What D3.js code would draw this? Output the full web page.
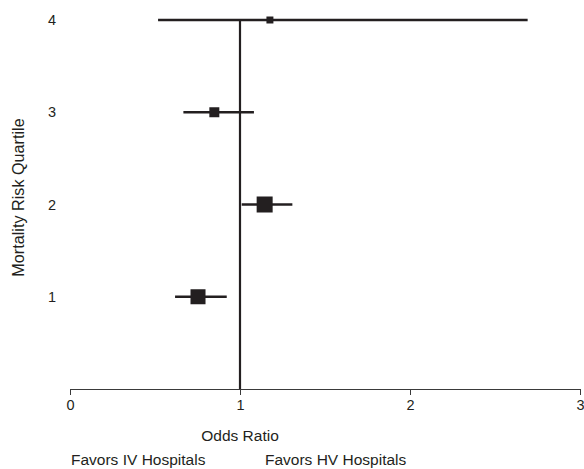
<!DOCTYPE html>
<html lang="en">
<head>
  <meta charset="utf-8">
  <title>Odds Ratio by Mortality Risk Quartile</title>
  <script src="https://d3js.org/d3.v7.min.js"></script>
  <style>
    body {
      margin: 0;
      background-color: #ffffff;
      font-family: "Liberation Sans", Arial, Helvetica, sans-serif;
    }
    .label {
      font-size: 15.5px;
      fill: #231f20;
    }
    .tick-label {
      font-size: 14.5px;
      fill: #231f20;
    }
    .axis path, .axis line {
      stroke: #3a3a3a;
    }
    .axis text {
      font-size: 14.5px;
      fill: #231f20;
      font-family: "Liberation Sans", Arial, Helvetica, sans-serif;
    }
  </style>
</head>
<body>

<script>
// data
var quartiles = [1, 2, 3, 4];
var oddsRatio = [0.753, 1.145, 0.849, 1.176];
var lowerCI = [0.618, 1.01, 0.667, 0.518];
var upperCI = [0.922, 1.308, 1.082, 2.692];
var weights = [0.88, 1.0, 0.39, 0.19];
var xTicks = [0, 1, 2, 3];

var width = 584, height = 469;
var ink = "#231f20";

var svg = d3.select("body").append("svg")
    .attr("width", width)
    .attr("height", height);

var x = d3.scaleLinear().domain([0, 3]).range([70, 580]);
var y = d3.scaleLinear().domain([0, 4]).range([389, 20]);
var side = d3.scaleSqrt().domain([0, 1]).range([0, 16]);

var rows = quartiles.map(function(q, i) {
  return { q: q, or: oddsRatio[i], lo: lowerCI[i], hi: upperCI[i], w: weights[i] };
});

// x axis
svg.append("g")
    .attr("class", "axis")
    .attr("transform", "translate(0," + y(0) + ")")
    .call(d3.axisBottom(x).tickValues(xTicks).tickFormat(d3.format("d")).tickSize(6).tickSizeOuter(0).tickPadding(5))
    .call(g => g.select(".domain").attr("stroke-width", 1.2));

// y tick labels
svg.append("g")
    .selectAll("text")
    .data(quartiles)
    .enter().append("text")
    .attr("class", "tick-label")
    .attr("x", 52)
    .attr("y", d => y(d))
    .attr("dy", "0.35em")
    .attr("text-anchor", "middle")
    .text(d => d);

// reference line at OR = 1
svg.append("line")
    .attr("x1", x(1)).attr("x2", x(1))
    .attr("y1", y(4)).attr("y2", y(0))
    .attr("stroke", ink)
    .attr("stroke-width", 2.2);

// confidence intervals
svg.append("g")
    .selectAll("line")
    .data(rows)
    .enter().append("line")
    .attr("x1", d => x(d.lo))
    .attr("x2", d => x(d.hi))
    .attr("y1", d => y(d.q))
    .attr("y2", d => y(d.q))
    .attr("stroke", ink)
    .attr("stroke-width", 2.6);

// point estimates
svg.append("g")
    .selectAll("rect")
    .data(rows)
    .enter().append("rect")
    .attr("x", d => x(d.or) - side(d.w) / 2)
    .attr("y", d => y(d.q) - side(d.w) / 2)
    .attr("width", d => side(d.w))
    .attr("height", d => side(d.w))
    .attr("fill", ink);

// axis titles
svg.append("text")
    .attr("class", "label")
    .attr("x", x(1))
    .attr("y", 440.5)
    .attr("text-anchor", "middle")
    .text("Odds Ratio");

svg.append("text")
    .attr("class", "label")
    .style("font-size", "16.2px")
    .attr("transform", "translate(24,197.5) rotate(-90)")
    .attr("text-anchor", "middle")
    .text("Mortality Risk Quartile");

svg.append("text")
    .attr("class", "label")
    .attr("x", 71)
    .attr("y", 465)
    .text("Favors IV Hospitals");

svg.append("text")
    .attr("class", "label")
    .attr("x", 265)
    .attr("y", 465)
    .text("Favors HV Hospitals");
</script>

</body>
</html>
